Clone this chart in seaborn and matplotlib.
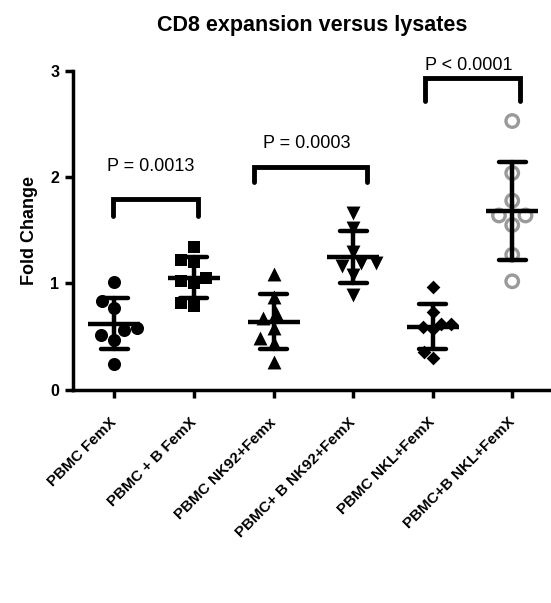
import numpy as np
import pandas as pd
import matplotlib
matplotlib.use("Agg")
import matplotlib.pyplot as plt
import seaborn as sns

# ---- data ----
categories = ["PBMC FemX", "PBMC + B FemX", "PBMC NK92+Femx",
              "PBMC+ B NK92+FemX", "PBMC NKL+FemX", "PBMC+B NKL+FemX"]
pbmc_femx = [1.01, 0.83, 0.77, 0.58, 0.56, 0.51, 0.47, 0.24]
pbmc_b_femx = [1.34, 1.20, 1.22, 1.02, 1.00, 1.05, 0.79, 0.82]
pbmc_nk92 = [1.09, 0.87, 0.67, 0.72, 0.58, 0.49, 0.44, 0.26]
pbmc_b_nk92 = [1.66, 1.52, 1.30, 1.19, 1.16, 1.19, 1.08, 0.89]
pbmc_nkl = [0.97, 0.73, 0.62, 0.59, 0.57, 0.62, 0.30, 0.35]
pbmc_b_nkl = [2.53, 2.04, 1.78, 1.64, 1.64, 1.55, 1.27, 1.02]
series = [pbmc_femx, pbmc_b_femx, pbmc_nk92, pbmc_b_nk92, pbmc_nkl, pbmc_b_nkl]

p_labels = ["P = 0.0013", "P = 0.0003", "P < 0.0001"]
yticks = [0, 1, 2, 3]

df = pd.DataFrame({
    "group": np.repeat(categories, [len(s) for s in series]),
    "value": np.concatenate(series),
})

# ---- style ----
sns.set_style("ticks")
plt.rcParams["font.family"] = ["Liberation Sans", "DejaVu Sans"]
plt.rcParams["text.color"] = "black"
plt.rcParams["axes.labelcolor"] = "black"
plt.rcParams["xtick.color"] = "black"
plt.rcParams["ytick.color"] = "black"

fig = plt.figure(figsize=(5.51, 6.03), dpi=100)
ax = fig.add_axes([0.1325, 0.354, 0.865, 0.528])

markers = ["o", "s", "^", "v", "D", "o"]
sizes = [9.4, 9.3, 10.0, 10.0, 7.0, 9.0]
for cat, s, m, sz in zip(categories, series, markers, sizes):
    sub = df[df["group"] == cat]
    sns.swarmplot(data=sub, x="group", y="value", order=categories, ax=ax,
                  marker=m, size=sz, color="black", linewidth=0, zorder=2)

# last group: open grey circles
coll = ax.collections[-1]
coll.set_facecolor("none")
coll.set_edgecolor("#9a9a9a")
coll.set_linewidth(2.4)

# mean +/- SD
sns.pointplot(data=df, x="group", y="value", order=categories, ax=ax,
              errorbar="sd", capsize=0.34, color="black",
              linestyle="none", marker="_", markersize=38,
              markeredgewidth=3.2, err_kws={"linewidth": 3.2}, zorder=3)

ax.set_xlim(-0.52, 5.47)
ax.set_ylim(0, 3)
ax.set_yticks(yticks)
ax.set_yticklabels([str(t) for t in yticks], fontsize=11.5, fontweight="bold",
                   color="black")
ax.set_xlabel("")
ax.set_ylabel("Fold Change", fontsize=13, fontweight="bold", labelpad=9,
              color="black")
ax.set_xticks(range(len(categories)))
ax.set_xticklabels(categories, rotation=45, ha="right", va="center",
                   rotation_mode="anchor", fontsize=11, fontweight="bold",
                   color="black")
ax.tick_params(axis="both", width=2.5, length=6, color="black")
ax.tick_params(axis="x", pad=16)
ax.tick_params(axis="y", pad=4)
for sp in ["left", "bottom"]:
    ax.spines[sp].set_linewidth(2.5)
    ax.spines[sp].set_color("black")
sns.despine(ax=ax)

# significance brackets
bracket_y = [1.80, 2.096, 2.94]
leg_y = [1.632, 1.96, 2.72]
bracket_x = [(-0.02, 1.054), (1.757, 3.174), (3.9, 5.10)]
text_y = [2.10, 2.32, 3.05]
text_x = [0.45, 2.42, 4.45]
for (x0, x1), by, ly, tx, ty, lab in zip(bracket_x, bracket_y, leg_y, text_x, text_y, p_labels):
    ax.plot([x0, x0, x1, x1], [ly, by, by, ly], color="black", lw=3.5,
            clip_on=False, solid_joinstyle="miter", zorder=4)
    ax.text(tx, ty, lab, ha="center", va="center", fontsize=13, clip_on=False,
            color="black")

fig.text(0.567, 0.958, "CD8 expansion versus lysates", ha="center", va="center",
         fontsize=15.5, fontweight="bold", color="black")

fig.savefig("out.png", dpi=100)
